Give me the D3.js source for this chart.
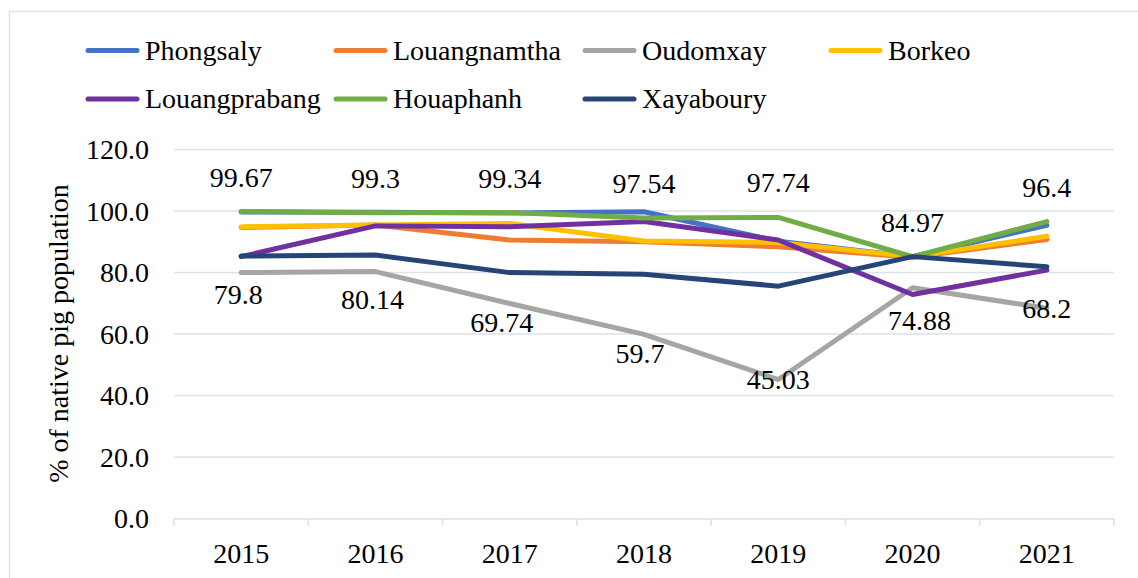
<!DOCTYPE html>
<html>
<head>
<meta charset="utf-8">
<script src="https://cdn.jsdelivr.net/npm/d3@7"></script>
<style>
  body { margin: 0; background: #fff; }
</style>
</head>
<body>
<svg id="chart" width="1138" height="578"></svg>
<script>
var years = ["2015", "2016", "2017", "2018", "2019", "2020", "2021"],
    yTicks = [0, 20, 40, 60, 80, 100, 120];

var phongsaly     = [99.5, 99.4, 99.2, 99.6, 90.0, 85.0, 95.2],
    louangnamtha  = [94.5, 95.3, 90.4, 89.8, 88.2, 84.8, 90.6],
    oudomxay      = [79.8, 80.14, 69.74, 59.7, 45.03, 74.88, 68.2],
    borkeo        = [94.7, 95.3, 95.8, 90.1, 89.6, 85.0, 91.6],
    louangprabang = [85.0, 95.0, 94.7, 96.4, 90.4, 72.7, 80.6],
    houaphanh     = [99.67, 99.3, 99.34, 97.54, 97.74, 84.97, 96.4],
    xayaboury     = [85.2, 85.5, 79.8, 79.3, 75.4, 85.0, 81.7];

var seriesNames = ["Phongsaly", "Louangnamtha", "Oudomxay", "Borkeo",
                   "Louangprabang", "Houaphanh", "Xayaboury"];
var seriesValues = [phongsaly, louangnamtha, oudomxay, borkeo,
                    louangprabang, houaphanh, xayaboury];
var colors = ["#4472C4", "#ED7D31", "#A5A5A5", "#FFC000", "#7030A0", "#70AD47", "#264478"];

// hand placed data labels (pixel nudges from each point, like in the original)
var greyNudgeX = [-3, -3, -8, -4, 0, 7, 0],
    greyNudgeY = [31, 37, 28, 29, 9, 42, 10];

var FONT = "'Liberation Serif', 'Times New Roman', serif";

var svg = d3.select("#chart"),
    margin = { left: 174, right: 1114, top: 149, bottom: 518 };

// outer frame
svg.append("rect")
    .attr("x", 9.5).attr("y", 11.5)
    .attr("width", 1140).attr("height", 580)
    .attr("fill", "none")
    .attr("stroke", "#dfe3ea")
    .attr("stroke-width", 1.5);

var x = d3.scaleBand().domain(years).range([margin.left, margin.right]),
    y = d3.scaleLinear().domain([0, 120]).range([margin.bottom, margin.top]);

// gridlines
svg.append("g").selectAll("line")
    .data(yTicks.filter(function (d) { return d > 0; }))
    .enter().append("line")
    .attr("x1", margin.left).attr("x2", margin.right)
    .attr("y1", function (d) { return y(d) + 0.5; })
    .attr("y2", function (d) { return y(d) + 0.5; })
    .attr("stroke", "#dde1e8")
    .attr("stroke-width", 1.5);

// y axis labels
var yAxis = svg.append("g")
    .attr("transform", "translate(" + margin.left + ",0)")
    .call(d3.axisLeft(y).tickValues(yTicks).tickFormat(d3.format(".1f")).tickSize(0).tickPadding(25));
yAxis.select(".domain").remove();
yAxis.selectAll("text")
    .style("font-family", FONT)
    .style("font-size", "28px")
    .attr("dy", "0.34em")
    .attr("fill", "#000");

// x axis
var xAxis = svg.append("g")
    .attr("transform", "translate(0," + (margin.bottom + 0.5) + ")")
    .call(d3.axisBottom(x).tickSize(0).tickPadding(25));
xAxis.select(".domain")
    .attr("stroke", "#dde1e8").attr("stroke-width", 1.5);
xAxis.selectAll("text")
    .style("font-family", FONT)
    .style("font-size", "28px")
    .attr("fill", "#000");

// tick marks between categories
svg.append("g").selectAll("line")
    .data(years.concat(["end"]))
    .enter().append("line")
    .attr("x1", function (d, i) { return margin.left + i * x.step(); })
    .attr("x2", function (d, i) { return margin.left + i * x.step(); })
    .attr("y1", margin.bottom).attr("y2", margin.bottom + 8)
    .attr("stroke", "#dde1e8")
    .attr("stroke-width", 1.5);

// y title
svg.append("text")
    .attr("transform", "translate(68," + ((margin.top + margin.bottom) / 2) + ") rotate(-90)")
    .attr("text-anchor", "middle")
    .style("font-family", FONT)
    .style("font-size", "28px")
    .text("% of native pig population");

// lines
var line = d3.line()
    .x(function (d, i) { return x(years[i]) + x.bandwidth() / 2; })
    .y(function (d) { return y(d); });

svg.append("g").selectAll("path")
    .data(seriesValues)
    .enter().append("path")
    .attr("d", line)
    .attr("fill", "none")
    .attr("stroke", function (d, i) { return colors[i]; })
    .attr("stroke-width", 5)
    .attr("stroke-linejoin", "round")
    .attr("stroke-linecap", "round");

// labels for Houaphanh (above)
svg.append("g").selectAll("text")
    .data(houaphanh)
    .enter().append("text")
    .attr("x", function (d, i) { return x(years[i]) + x.bandwidth() / 2; })
    .attr("y", function (d) { return y(d) - 25; })
    .attr("text-anchor", "middle")
    .style("font-family", FONT)
    .style("font-size", "28px")
    .text(function (d) { return d; });

// labels for Oudomxay (below)
svg.append("g").selectAll("text")
    .data(oudomxay)
    .enter().append("text")
    .attr("x", function (d, i) { return x(years[i]) + x.bandwidth() / 2 + greyNudgeX[i]; })
    .attr("y", function (d, i) { return y(d) + greyNudgeY[i]; })
    .attr("text-anchor", "middle")
    .style("font-family", FONT)
    .style("font-size", "28px")
    .text(function (d) { return d; });

// legend
var legendCols = [86, 334, 583, 829],
    legendRows = [50.5, 99];
var legend = svg.append("g").selectAll("g")
    .data(seriesNames)
    .enter().append("g")
    .attr("transform", function (d, i) {
        return "translate(" + legendCols[i % 4] + "," + legendRows[Math.floor(i / 4)] + ")";
    });
legend.append("line")
    .attr("x1", 2).attr("x2", 51)
    .attr("y1", 0).attr("y2", 0)
    .attr("stroke", function (d, i) { return colors[i]; })
    .attr("stroke-width", 5)
    .attr("stroke-linecap", "round");
legend.append("text")
    .attr("x", 59).attr("y", 9)
    .style("font-family", FONT)
    .style("font-size", "28px")
    .text(function (d) { return d; });
</script>
</body>
</html>
